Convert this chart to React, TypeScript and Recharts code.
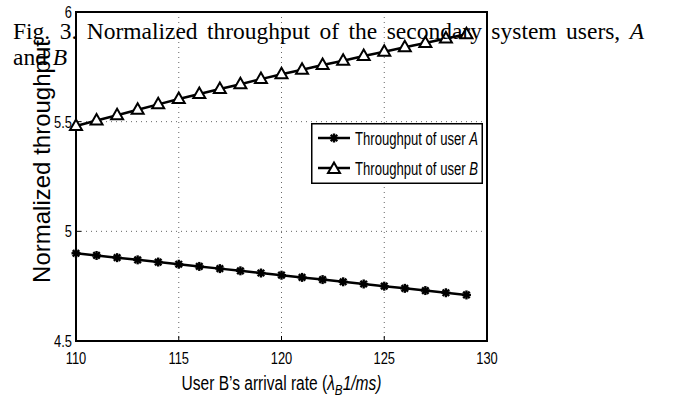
import {
  LineChart,
  Line,
  XAxis,
  YAxis,
  CartesianGrid,
  Legend,
  ReferenceArea,
  Label,
} from "recharts";

const arrivalRate = [110, 111, 112, 113, 114, 115, 116, 117, 118, 119, 120, 121, 122, 123, 124, 125, 126, 127, 128, 129];
const throughputA = [4.9, 4.89, 4.88, 4.87, 4.86, 4.85, 4.84, 4.83, 4.82, 4.81, 4.8, 4.79, 4.78, 4.77, 4.76, 4.75, 4.74, 4.73, 4.72, 4.71];
const throughputB = [5.48, 5.505, 5.529, 5.554, 5.579, 5.603, 5.626, 5.649, 5.671, 5.694, 5.716, 5.737, 5.758, 5.778, 5.799, 5.819, 5.839, 5.859, 5.879, 5.899];
const xTicks = [110, 115, 120, 125, 130];
const yTicks = [4.5, 5, 5.5, 6];
const seriesUsers = ["A", "B"];

const data = arrivalRate.map((rate, i) => ({ rate, a: throughputA[i], b: throughputB[i] }));

const sans = "'Liberation Sans', Arial, sans-serif";

function StarMark({ cx, cy }: { cx: number; cy: number }) {
  const r = 4.5;
  const d = r * 0.72;
  return (
    <g stroke="#000" strokeWidth={2.4}>
      <line x1={cx - r} y1={cy} x2={cx + r} y2={cy} />
      <line x1={cx} y1={cy - r} x2={cx} y2={cy + r} />
      <line x1={cx - d} y1={cy - d} x2={cx + d} y2={cy + d} />
      <line x1={cx - d} y1={cy + d} x2={cx + d} y2={cy - d} />
    </g>
  );
}

function TriangleMark({ cx, cy }: { cx: number; cy: number }) {
  return (
    <polygon
      points={`${cx},${cy - 6.5} ${cx - 6},${cy + 4} ${cx + 6},${cy + 4}`}
      fill="#fff"
      stroke="#000"
      strokeWidth={2}
    />
  );
}

const renderStar = (p: any) => <StarMark key={`a-${p.index}`} cx={p.cx} cy={p.cy} />;
const renderTriangle = (p: any) => <TriangleMark key={`b-${p.index}`} cx={p.cx} cy={p.cy} />;

// squeezed ticks, the original uses a condensed Helvetica
function XTick({ x, y, payload }: any) {
  return (
    <text
      transform={`translate(${x},${y}) scale(0.76,1)`}
      textAnchor="middle"
      dy="0.72em"
      fontFamily={sans}
      fontSize={17}
      fill="#000"
    >
      {payload.value}
    </text>
  );
}

function YTick({ x, y, payload }: any) {
  return (
    <text
      transform={`translate(${x},${y}) scale(0.76,1)`}
      textAnchor="end"
      dy="0.36em"
      fontFamily={sans}
      fontSize={17}
      fill="#000"
    >
      {payload.value}
    </text>
  );
}

function LegendBox() {
  return (
    <svg width={172} height={61} style={{ display: "block" }}>
      <rect x={0.75} y={0.75} width={170.5} height={59.5} fill="#fff" stroke="#000" strokeWidth={1.5} />
      {seriesUsers.map((u, i) => {
        const cy = 15 + i * 30;
        return (
          <g key={u}>
            <line x1={7} y1={cy} x2={39} y2={cy} stroke="#000" strokeWidth={2.5} />
            {i === 0 ? <StarMark cx={23} cy={cy} /> : <TriangleMark cx={23} cy={cy + 1} />}
            <text
              x={44}
              y={cy + 6.5}
              fontFamily={sans}
              fontSize={18}
              fill="#000"
              textLength={123}
              lengthAdjust="spacingAndGlyphs"
            >
              Throughput of user <tspan fontStyle="italic">{u}</tspan>
            </text>
          </g>
        );
      })}
    </svg>
  );
}

function XLabel({ viewBox }: any) {
  const cx = viewBox.x + viewBox.width / 2;
  return (
    <text
      x={cx}
      y={viewBox.y + 49}
      textAnchor="middle"
      fontFamily={sans}
      fontSize={20}
      fill="#000"
      textLength={200}
      lengthAdjust="spacingAndGlyphs"
    >
      User B’s arrival rate (<tspan fontStyle="italic">λ</tspan>
      <tspan fontStyle="italic" fontSize={15} dy={5}>B</tspan>
      <tspan fontStyle="italic" dy={-5}>1/ms)</tspan>
    </text>
  );
}

function YLabel() {
  return (
    <text
      transform="translate(50,161.5) rotate(-90)"
      textAnchor="middle"
      fontFamily={sans}
      fontSize={24}
      fill="#000"
    >
      Normalized throughput
    </text>
  );
}

export default function App() {
  return (
    <div style={{ position: "absolute", left: 0, top: 0, width: 676, height: 401, background: "#fff" }}>
      <LineChart width={676} height={401} data={data} margin={{ top: 12, right: 189, bottom: 0, left: 0 }}>
        <CartesianGrid stroke="#666" strokeDasharray="1 4" strokeWidth={1} />
        <XAxis
          dataKey="rate"
          type="number"
          domain={[110, 130]}
          ticks={xTicks}
          height={60}
          tickSize={-5}
          tickMargin={16}
          tick={<XTick />}
          stroke="#000"
          axisLine={false}
        >
          <Label content={<XLabel />} />
        </XAxis>
        <YAxis
          type="number"
          domain={[4.5, 6]}
          ticks={yTicks}
          width={76}
          tickSize={-5}
          tickMargin={9}
          tick={<YTick />}
          stroke="#000"
          axisLine={false}
        >
          <Label content={<YLabel />} />
        </YAxis>
        <ReferenceArea x1={110} x2={130} y1={4.5} y2={6} fill="none" stroke="#000" strokeWidth={2} />
        <Legend
          layout="horizontal"
          verticalAlign="middle"
          align="center"
          content={() => <LegendBox />}
          wrapperStyle={{ position: "absolute", left: 311, top: 123, width: 172, height: 61 }}
        />
        <Line dataKey="a" stroke="#000" strokeWidth={2.5} dot={renderStar} isAnimationActive={false} />
        <Line dataKey="b" stroke="#000" strokeWidth={2.5} dot={renderTriangle} isAnimationActive={false} />
      </LineChart>
      <div
        style={{
          position: "absolute",
          left: 13,
          top: 18,
          width: 631,
          fontFamily: "'Liberation Serif', 'Times New Roman', serif",
          fontSize: 23.5,
          lineHeight: "26px",
          color: "#000",
          pointerEvents: "none",
        }}
      >
        <div style={{ textAlign: "justify", textAlignLast: "justify" }}>
          Fig. 3. Normalized throughput of the secondary system users, <i>A</i>
        </div>
        <div>
          and <i>B</i>
        </div>
      </div>
    </div>
  );
}
